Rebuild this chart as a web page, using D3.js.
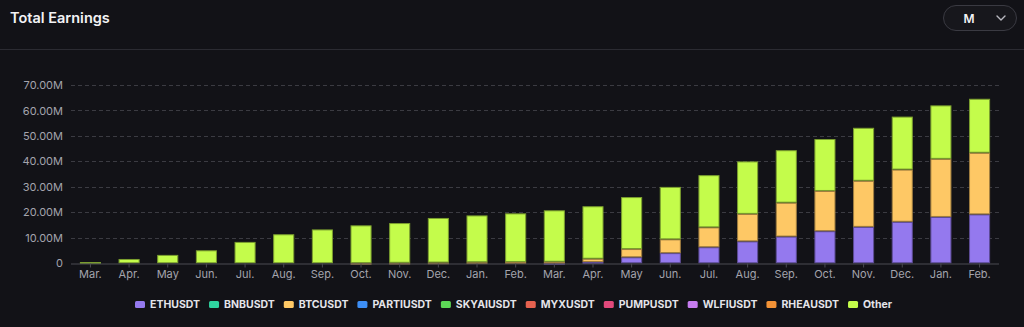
<!DOCTYPE html>
<html>
<head>
<meta charset="utf-8">
<script src="https://cdn.jsdelivr.net/npm/d3@7/dist/d3.min.js"></script>
<style>
  html, body { margin: 0; padding: 0; background: #121217; }
  svg { display: block; font-family: Inter, "Noto Sans", sans-serif; }
</style>
</head>
<body>
<svg id="chart" width="1024" height="327"></svg>
<script>
// Monthly categories (two consecutive years, Mar → Feb)
const months = ["Mar.", "Apr.", "May", "Jun.", "Jul.", "Aug.", "Sep.", "Oct.", "Nov.", "Dec.", "Jan.", "Feb.",
                "Mar.", "Apr.", "May", "Jun.", "Jul.", "Aug.", "Sep.", "Oct.", "Nov.", "Dec.", "Jan.", "Feb."];

// Earnings per symbol, in millions
const ETHUSDT   = [0, 0, 0, 0, 0, 0, 0, 0, 0, 0, 0, 0, 0.1, 0.5, 2.35, 4.0, 6.3, 8.6, 10.5, 12.6, 14.3, 16.3, 18.2, 19.2];
const BNBUSDT   = [0, 0, 0, 0, 0, 0, 0, 0, 0, 0, 0, 0, 0, 0, 0, 0, 0, 0, 0, 0, 0, 0, 0, 0];
const BTCUSDT   = [0, 0, 0, 0, 0, 0, 0, 0.1, 0.2, 0.3, 0.4, 0.5, 0.5, 1.3, 3.25, 5.4, 7.8, 10.8, 13.3, 15.8, 18.1, 20.5, 22.8, 24.2];
const PARTIUSDT = [0, 0, 0, 0, 0, 0, 0, 0, 0, 0, 0, 0, 0, 0, 0, 0, 0, 0, 0, 0, 0, 0, 0, 0];
const SKYAIUSDT = [0, 0, 0, 0, 0, 0, 0, 0, 0, 0, 0, 0, 0, 0, 0, 0, 0, 0, 0, 0, 0, 0, 0, 0];
const MYXUSDT   = [0, 0, 0, 0, 0, 0, 0, 0, 0, 0, 0, 0, 0, 0, 0, 0, 0, 0, 0, 0, 0, 0, 0, 0];
const PUMPUSDT  = [0, 0, 0, 0, 0, 0, 0, 0, 0, 0, 0, 0, 0, 0, 0, 0, 0, 0, 0, 0, 0, 0, 0, 0];
const WLFIUSDT  = [0, 0, 0, 0, 0, 0, 0, 0, 0, 0, 0, 0, 0, 0, 0, 0, 0, 0, 0, 0, 0, 0, 0, 0];
const RHEAUSDT  = [0, 0, 0, 0, 0, 0, 0, 0, 0, 0, 0, 0, 0, 0, 0, 0, 0, 0, 0, 0, 0, 0, 0, 0];
const Other     = [0.5, 1.7, 3.3, 5.1, 8.4, 11.4, 13.3, 14.8, 15.6, 17.5, 18.4, 19.1,
                   20.2, 20.6, 20.4, 20.6, 20.5, 20.6, 20.6, 20.4, 20.8, 20.8, 21.0, 21.2];

const seriesNames = ["ETHUSDT", "BNBUSDT", "BTCUSDT", "PARTIUSDT", "SKYAIUSDT", "MYXUSDT", "PUMPUSDT", "WLFIUSDT", "RHEAUSDT", "Other"];
const seriesValues = [ETHUSDT, BNBUSDT, BTCUSDT, PARTIUSDT, SKYAIUSDT, MYXUSDT, PUMPUSDT, WLFIUSDT, RHEAUSDT, Other];
const seriesColors = ["#9479ee", "#2fd4a0", "#fec865", "#3d8ef5", "#5cd856", "#e5614f", "#e0497b", "#c67cf0", "#f39236", "#c4fc4b"];

const yTicks = [0, 10, 20, 30, 40, 50, 60, 70];

// Build rows for the stack layout
const rows = months.map((m, i) => {
  const r = { idx: i };
  seriesNames.forEach((n, k) => { r[n] = seriesValues[k][i]; });
  return r;
});

const svg = d3.select("#chart");
const W = 1024, H = 327;

// Header
svg.append("text")
  .attr("x", 10).attr("y", 23)
  .attr("fill", "#f2f2f5")
  .attr("font-size", 14.5)
  .attr("font-weight", 600)
  .text("Total Earnings");

svg.append("line")
  .attr("x1", 0).attr("x2", W)
  .attr("y1", 49.5).attr("y2", 49.5)
  .attr("stroke", "#2b2b32").attr("stroke-width", 1);

// Period selector
const sel = svg.append("g");
sel.append("rect")
  .attr("x", 943.5).attr("y", 5.5).attr("width", 73).attr("height", 25).attr("rx", 12.5)
  .attr("fill", "#17171c").attr("stroke", "#3a3a42");
sel.append("text")
  .attr("x", 969).attr("y", 22.5)
  .attr("text-anchor", "middle")
  .attr("fill", "#f2f2f5").attr("font-size", 12).attr("font-weight", 600)
  .text("M");
sel.append("path")
  .attr("d", "M997,16 L1001,20 L1005,16")
  .attr("fill", "none").attr("stroke", "#b8b8c0").attr("stroke-width", 1.4)
  .attr("stroke-linecap", "round").attr("stroke-linejoin", "round");

// Scales
const x = d3.scaleBand()
  .domain(d3.range(months.length))
  .range([71, 999])
  .paddingInner(0.455)
  .paddingOuter(0.23);

const y = d3.scaleLinear()
  .domain([0, 70])
  .range([263.3, 85]);

// Gridlines
svg.append("g")
  .selectAll("line")
  .data(yTicks.filter(d => d > 0))
  .join("line")
  .attr("x1", 71).attr("x2", 999)
  .attr("y1", d => Math.round(y(d)) + 0.5).attr("y2", d => Math.round(y(d)) + 0.5)
  .attr("stroke", "#3b3b42")
  .attr("stroke-dasharray", "4,3");

// Y axis labels
const yAxis = d3.axisLeft(y)
  .tickValues(yTicks)
  .tickSize(0)
  .tickPadding(0)
  .tickFormat(d => d === 0 ? "0" : d3.format(".2f")(d) + "M");

const gy = svg.append("g").attr("transform", "translate(63,0)").call(yAxis);
gy.select(".domain").remove();
gy.selectAll("text")
  .attr("fill", "#a4a4ad")
  .attr("font-size", 11)
  .attr("font-family", "Inter, 'Noto Sans', sans-serif");

// Stacked bars
const stack = d3.stack().keys(seriesNames);
const layers = stack(rows);

svg.append("g")
  .selectAll("g")
  .data(layers)
  .join("g")
  .attr("fill", (d, k) => seriesColors[k])
  .attr("stroke", (d, k) => d3.color(seriesColors[k]).darker(1.3))
  .attr("stroke-width", 1)
  .selectAll("rect")
  .data(d => d.filter(p => p[1] - p[0] > 0))
  .join("rect")
  .attr("x", p => x(p.data.idx) + 0.5)
  .attr("width", x.bandwidth() - 1)
  .attr("y", p => y(p[1]) + 0.5)
  .attr("height", p => Math.max(0.8, y(p[0]) - y(p[1]) - 1));

// X axis
const xAxis = d3.axisBottom(x)
  .tickSize(4)
  .tickPadding(3)
  .tickFormat(i => months[i]);

const gx = svg.append("g").attr("transform", "translate(0,263.5)").call(xAxis);
gx.select(".domain").attr("stroke", "#4a4a52").attr("d", "M71,0.5H999");
gx.selectAll(".tick line").attr("stroke", "#4a4a52");
gx.selectAll("text")
  .attr("fill", "#a4a4ad")
  .attr("font-size", 11)
  .attr("font-family", "Inter, 'Noto Sans', sans-serif");

// Legend
const legend = svg.append("g").attr("transform", "translate(0,304.5)");
let lx = 135;
seriesNames.forEach((name, k) => {
  const g = legend.append("g").attr("transform", `translate(${lx},0)`);
  g.append("rect")
    .attr("x", 0).attr("y", -3.5).attr("width", 10).attr("height", 7).attr("rx", 1.5)
    .attr("fill", seriesColors[k]);
  const t = g.append("text")
    .attr("x", 15).attr("y", 3.8)
    .attr("fill", "#e4e4ea")
    .attr("font-size", 10.5)
    .attr("font-weight", 700)
    .text(name);
  lx += 15 + t.node().getComputedTextLength() + 9;
});
</script>
</body>
</html>
